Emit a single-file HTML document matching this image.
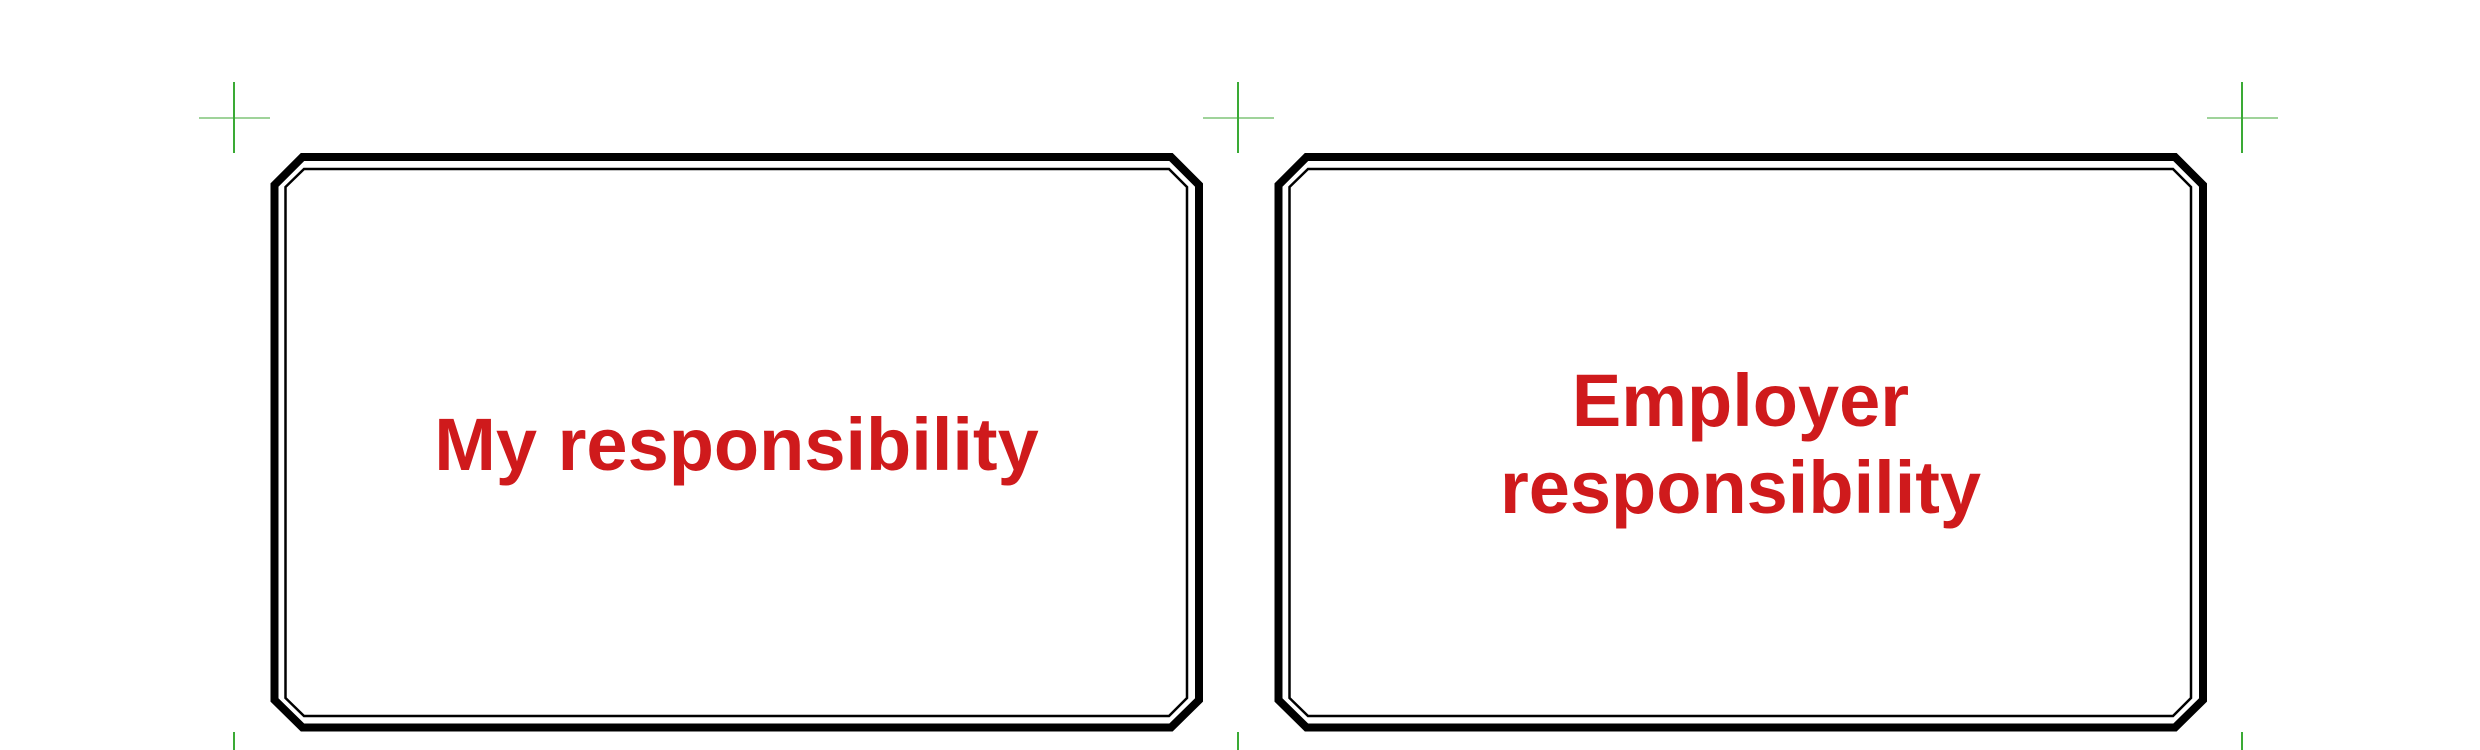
<!DOCTYPE html>
<html><head><meta charset="utf-8"><style>
html,body{margin:0;padding:0;background:#fff;width:2480px;height:750px;overflow:hidden}
</style></head><body>
<svg width="2480" height="750" viewBox="0 0 2480 750" xmlns="http://www.w3.org/2000/svg">
<g stroke="#9fd39a" stroke-width="2">
<line x1="199" y1="118" x2="270" y2="118"/>
<line x1="1203" y1="118" x2="1274" y2="118"/>
<line x1="2207" y1="118" x2="2278" y2="118"/>
</g>
<g stroke="#3aaa35" stroke-width="2">
<line x1="234" y1="82" x2="234" y2="153"/>
<line x1="1238" y1="82" x2="1238" y2="153"/>
<line x1="2242" y1="82" x2="2242" y2="153"/>
<line x1="234" y1="732" x2="234" y2="750"/>
<line x1="1238" y1="732" x2="1238" y2="750"/>
<line x1="2242" y1="732" x2="2242" y2="750"/>
</g>
<g fill="none" stroke="#000">
<polygon stroke-width="8" points="302.5,157 1171,157 1199,185 1199,700 1171,727.5 302.5,727.5 274.5,700 274.5,185"/>
<polygon stroke-width="2.5" points="304,169 1169,169 1187,187 1187,698 1169,716 304,716 285.5,698 285.5,187"/>
<polygon stroke-width="8" points="1306.5,157 2175,157 2203,185 2203,700 2175,727.5 1306.5,727.5 1278.5,700 1278.5,185"/>
<polygon stroke-width="2.5" points="1308,169 2173,169 2191,187 2191,698 2173,716 1308,716 1289.5,698 1289.5,187"/>
</g>
<g fill="#cf1a1c" font-family="Liberation Sans, Arial, sans-serif" font-weight="bold" font-size="74" text-anchor="middle">
<text x="736.5" y="470">My responsibility</text>
<text x="1740.5" y="426">Employer</text>
<text x="1740.5" y="513">responsibility</text>
</g>
</svg>
</body></html>
